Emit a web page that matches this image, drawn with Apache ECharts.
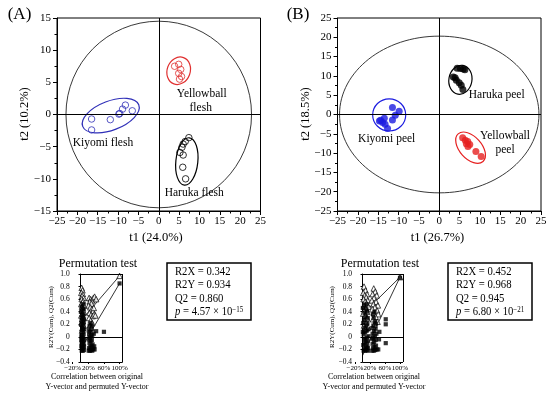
<!DOCTYPE html>
<html><head><meta charset="utf-8">
<script src="https://cdn.jsdelivr.net/npm/echarts@6/dist/echarts.min.js"></script>
<style>html,body{margin:0;padding:0;background:#fff}#c{width:550px;height:396px}</style>
</head><body><div id="c"></div>
<script>
const FONT = '"Liberation Serif","Times New Roman",serif';

// ---------- Panel A (flesh) score points [t1, t2] ----------
const fleshKiyomi = [[-16.5,-0.7],[-16.5,-2.4],[-11.9,-0.8],[-9.8,0.06],[-9.6,0.16],[-8.9,0.84],[-8.2,1.46],[-6.5,0.58]];
const fleshYellowball = [[3.9,7.5],[4.9,7.8],[5.4,7.0],[4.9,6.4],[5.6,5.9],[5.1,5.5]];
const fleshHaruka = [[7.4,-3.6],[6.5,-4.2],[6.0,-4.6],[5.7,-5.1],[5.2,-5.9],[6.0,-6.3],[5.9,-8.2],[6.6,-10.0]];
// ellipses [cx, cy, rx (t1 units), ry (t2 units), angle deg]
const fleshEllipses = [[0,0,22.8,14.5,0],[-11.8,-0.17,7.38,2.26,21],[4.9,6.8,2.83,2.18,-20],[6.9,-7.3,2.7,3.7,-6]];

// ---------- Panel B (peel) score points ----------
const peelKiyomi = [[-11.5,1.8],[-9.85,0.86],[-10.8,-0.2],[-11.5,-1.4],[-13.5,-1.0],[-14.4,-1.5],[-13.9,-2.1],[-13.3,-2.5],[-12.7,-3.6],[-14.7,-1.7]];
const peelHaruka = [[4.4,12.0],[5.2,11.9],[5.9,11.8],[6.3,11.6],[3.45,9.7],[3.9,9.5],[4.2,8.9],[4.9,8.2],[5.4,7.6],[5.8,6.5]];
const peelYellowball = [[5.75,-6.0],[6.4,-6.7],[7.0,-7.0],[6.65,-7.55],[7.5,-7.8],[7.05,-8.3],[9.0,-9.6],[10.3,-10.9]];
const peelEllipses = [[0,0,24.5,20.3,0],[-12.3,-0.1,4.06,4.17,0],[5.2,9.0,2.83,3.78,-10],[7.7,-8.6,4.56,2.86,-48]];

// ---------- Permutation tests [correlation, value] ----------
const permA_R2 = [[0.03,0.78],[0.05,0.74],[0.02,0.70],[0.06,0.68],[0.04,0.65],[0.08,0.62],[0.03,0.60],[0.07,0.57],[0.05,0.55],[0.02,0.52],[0.09,0.50],[0.04,0.48],[0.06,0.45],[0.03,0.42],[0.08,0.40],[0.05,0.37],[0.02,0.34],[0.07,0.31],[0.04,0.28],[0.06,0.25],[0.03,0.22],[0.08,0.18],[0.05,0.14],[0.04,0.10],
  [0.22,0.62],[0.26,0.60],[0.30,0.58],[0.24,0.56],[0.28,0.53],[0.33,0.62],[0.36,0.64],[0.21,0.50],[0.25,0.47],[0.29,0.44],[0.32,0.41],[0.23,0.38],[0.27,0.35],[0.31,0.33],[0.35,0.36],[0.38,0.34],[0.22,0.30],[0.26,0.26],[0.30,0.22],[0.24,0.18],[0.28,0.14],[0.40,0.60],[0.34,0.46],[1.0,0.97]];
const permA_Q2 = [[0.03,-0.22],[0.06,-0.22],[0.09,-0.21],[0.04,-0.19],[0.07,-0.17],[0.02,-0.15],[0.05,-0.13],[0.08,-0.11],[0.03,-0.09],[0.06,-0.07],[0.09,-0.05],[0.04,-0.03],[0.07,-0.01],[0.02,0.01],[0.05,0.03],[0.08,0.05],[0.03,0.08],[0.06,0.11],[0.04,0.14],[0.07,0.17],[0.05,0.21],[0.03,0.25],[0.06,0.30],[0.04,0.35],[0.05,0.42],
  [0.08,0.23],[0.02,0.19],[0.09,0.28],[0.07,0.36],[0.03,0.31],[0.08,0.45],[0.03,0.48],[0.06,0.52],[0.02,0.40],[0.09,0.12],[0.02,-0.05],[0.09,-0.15],
  [0.21,-0.22],[0.24,-0.22],[0.27,-0.21],[0.30,-0.22],[0.33,-0.20],[0.22,-0.18],[0.25,-0.16],[0.28,-0.14],[0.31,-0.12],[0.23,-0.10],[0.26,-0.07],[0.29,-0.05],[0.24,-0.02],[0.27,0.01],[0.22,0.04],[0.25,0.08],[0.28,0.12],[0.23,0.17],[0.26,0.22],[0.35,-0.15],[0.36,-0.20],[0.34,0.05],
  [0.30,0.03],[0.21,0.10],[0.29,0.18],[0.31,-0.18],[0.21,-0.04],
  [0.40,0.09],[0.60,0.08],[1.0,0.85]];
const permA_R2line = [[0,0.25],[1.0,0.97]];
const permA_Q2line = [[0,-0.2],[1.0,0.85]];

const permB_R2 = [[0.04,0.80],[0.08,0.74],[0.02,0.70],[0.12,0.68],[0.06,0.66],[0.10,0.63],[0.03,0.60],[0.14,0.58],[0.07,0.56],[0.11,0.53],[0.04,0.50],[0.16,0.48],[0.09,0.45],[0.05,0.42],[0.13,0.40],[0.02,0.37],[0.08,0.34],[0.12,0.30],[0.06,0.26],[0.10,0.22],[0.04,0.18],[0.15,0.15],[0.08,0.12],
  [0.30,0.77],[0.34,0.72],[0.27,0.68],[0.38,0.66],[0.31,0.62],[0.25,0.58],[0.36,0.56],[0.29,0.52],[0.41,0.50],[0.33,0.47],[0.26,0.44],[0.39,0.42],[0.30,0.38],[0.42,0.36],[0.35,0.32],[0.28,0.28],[0.40,0.24],[0.32,0.20],[1.0,0.95]];
const permB_Q2 = [[0.03,-0.22],[0.07,-0.22],[0.11,-0.21],[0.15,-0.22],[0.05,-0.19],[0.09,-0.17],[0.13,-0.15],[0.02,-0.13],[0.06,-0.11],[0.10,-0.09],[0.14,-0.07],[0.04,-0.05],[0.08,-0.03],[0.12,-0.01],[0.16,0.01],[0.03,0.04],[0.07,0.07],[0.11,0.10],[0.05,0.14],[0.09,0.18],[0.13,0.22],[0.04,0.27],[0.08,0.32],[0.06,0.38],[0.10,0.44],[0.05,0.50],
  [0.14,0.30],[0.02,0.22],[0.12,0.40],[0.15,0.12],[0.01,0.46],[0.11,0.52],[0.14,-0.18],[0.01,0.08],
  [0.26,-0.22],[0.30,-0.22],[0.34,-0.21],[0.38,-0.20],[0.28,-0.18],[0.32,-0.16],[0.36,-0.14],[0.27,-0.11],[0.31,-0.08],[0.35,-0.05],[0.29,-0.02],[0.33,0.01],[0.27,0.05],[0.31,0.09],[0.35,0.13],[0.29,0.18],[0.33,0.24],[0.30,0.30],[0.28,0.36],
  [0.37,0.05],[0.26,0.14],[0.36,0.21],[0.32,0.40],[0.26,-0.03],
  [0.45,0.08],[0.44,-0.04],[0.42,-0.20],[0.62,0.28],[0.62,0.20],[0.62,-0.10],[1.0,0.94]];
const permB_R2line = [[0,0.36],[1.0,0.95]];
const permB_Q2line = [[0,-0.3],[1.0,0.95]];

const permXTicks = [-0.2, 0.2, 0.6, 1.0];
const PX_MAX = 1.08;

const fmtMinus = v => String(v).replace('-', '\u2212');
const fmtPerm = v => (v === 0 ? '0' : v.toFixed(1)).replace('-', '\u2212');
const fmtPct = v => (Math.round(v * 100) + '%').replace('-', '\u2212');

const BLUE_A = '#3030b8', RED_A = '#e03030';
const BLUE_B = '#1c1ce0', RED_B = '#e62020';

function mainX(gi) {
  return {type:'value', gridIndex:gi, min:-25, max:25, interval:5,
    axisLine:{onZero:false, lineStyle:{color:'#000', width:1}},
    axisTick:{length:4, lineStyle:{color:'#000'}},
    minorTick:{show:true, splitNumber:2, length:2.5, lineStyle:{color:'#000'}},
    splitLine:{show:false},
    axisLabel:{color:'#000', fontFamily:FONT, fontSize:11, margin:5, formatter:fmtMinus}};
}
function mainY(gi, lim) {
  return {type:'value', gridIndex:gi, min:-lim, max:lim, interval:5,
    axisLine:{onZero:false, lineStyle:{color:'#000', width:1}},
    axisTick:{length:4, lineStyle:{color:'#000'}},
    minorTick:{show:true, splitNumber:2, length:2.5, lineStyle:{color:'#000'}},
    splitLine:{show:false},
    axisLabel:{color:'#000', fontFamily:FONT, fontSize:11, margin:6, formatter:fmtMinus}};
}
function permX(gi) {
  return {type:'value', gridIndex:gi, min:-0.2, max:PX_MAX,
    axisLine:{show:false, onZero:false},
    axisTick:{show:true, customValues:permXTicks, length:2, lineStyle:{color:'#000'}},
    splitLine:{show:false},
    axisLabel:{customValues:permXTicks, color:'#000', fontFamily:FONT, fontSize:7, margin:3, formatter:fmtPct}};
}
function permY(gi) {
  return {type:'value', gridIndex:gi, min:-0.4, max:1.0, interval:0.2,
    axisLine:{onZero:true, lineStyle:{color:'#000', width:1}},
    axisTick:{length:2, lineStyle:{color:'#000'}},
    splitLine:{show:false},
    axisLabel:{color:'#000', fontFamily:FONT, fontSize:7.5, margin:3, formatter:fmtPerm}};
}

function ellipseSeries(list, colors, idx) {
  return {type:'custom', xAxisIndex:idx, yAxisIndex:idx, silent:true, z:1, encode:{x:0, y:1},
    data:list,
    renderItem(params, api) {
      const c = api.coord([api.value(0), api.value(1)]);
      const rx = api.size([api.value(2), 0])[0];
      const ry = api.size([0, api.value(3)])[1];
      return {type:'ellipse', x:c[0], y:c[1], rotation:api.value(4) * Math.PI / 180,
        shape:{cx:0, cy:0, rx:rx, ry:ry},
        style:{fill:'none', stroke:colors[params.dataIndex], lineWidth:params.dataIndex === 0 ? 0.9 : 1.2}};
    }};
}
const crossLines = {silent:true, symbol:['none','none'], label:{show:false},
  lineStyle:{color:'#000', type:'solid', width:1}, data:[{xAxis:0},{yAxis:0}]};

function openScatter(data, color, idx, extra) {
  return Object.assign({type:'scatter', xAxisIndex:idx, yAxisIndex:idx, data, symbol:'circle', symbolSize:6.5, z:3,
    itemStyle:{color:'rgba(255,255,255,0)', borderColor:color, borderWidth:1}}, extra || {});
}
function filledScatter(data, color, idx, extra) {
  return Object.assign({type:'scatter', xAxisIndex:idx, yAxisIndex:idx, data, symbol:'circle', symbolSize:7, z:3,
    itemStyle:{color:color}}, extra || {});
}
function permSeries(idx, r2, q2, r2line, q2line) {
  const frame = {silent:true, symbol:['none','none'], label:{show:false},
    lineStyle:{color:'#000', type:'solid', width:1},
    data:[
      [{coord:[0,0]},{coord:[PX_MAX,0]}],
      [{coord:[0,1.0]},{coord:[PX_MAX,1.0]}],
      [{coord:[0,-0.4]},{coord:[PX_MAX,-0.4]}],
      [{coord:[PX_MAX,-0.4]},{coord:[PX_MAX,1.0]}]
    ]};
  return [
    {type:'line', xAxisIndex:idx, yAxisIndex:idx, data:r2line, symbol:'none', z:2, lineStyle:{color:'#000', width:0.8}, markLine:frame},
    {type:'line', xAxisIndex:idx, yAxisIndex:idx, data:q2line, symbol:'none', z:2, lineStyle:{color:'#000', width:0.8}},
    {type:'scatter', xAxisIndex:idx, yAxisIndex:idx, data:r2, symbol:'triangle', symbolSize:5.5, z:3,
      itemStyle:{color:'#fff', borderColor:'#000', borderWidth:0.9}},
    {type:'scatter', xAxisIndex:idx, yAxisIndex:idx, data:q2, symbol:'rect', symbolSize:4.2, z:4,
      itemStyle:{color:'#000'}}
  ];
}

function txt(text, x, y, size, extra) {
  return Object.assign({type:'text', x:x, y:y, silent:true, z:100,
    style:Object.assign({text:text, fontFamily:FONT, fontSize:size, fill:'#000',
      align:'center', verticalAlign:'middle', textAlign:'center', textVerticalAlign:'middle'}, (extra && extra.style) || {})},
    extra ? {rotation:extra.rotation || 0} : {});
}
function statBox(x, y, lines) {
  const els = [{type:'rect', silent:true, z:100, shape:{x:x, y:y, width:84, height:57},
    style:{fill:'none', stroke:'#000', lineWidth:1.5}}];
  lines.forEach((l, i) => {
    els.push({type:'text', silent:true, z:100, x:x + 8, y:y + 8.5 + i * 13.5, scaleX:0.82,
      style:{text:l, fontFamily:FONT, fontSize:13, fill:'#000', align:'left', verticalAlign:'middle',
        textAlign:'left', textVerticalAlign:'middle', lineHeight:14,
        rich:{i:{fontStyle:'italic', fontFamily:FONT, fontSize:13, lineHeight:14},
              n:{fontFamily:FONT, fontSize:13, lineHeight:14},
              s:{fontFamily:FONT, fontSize:8.5, verticalAlign:'top', lineHeight:13}}}});
  });
  return els;
}

const option = {
  animation:false,
  backgroundColor:'#fff',
  grid:[
    {left:57, top:18, width:203.5, height:193, show:true, borderColor:'#000', borderWidth:1, containLabel:false},
    {left:337.5, top:18, width:203.5, height:193, show:true, borderColor:'#000', borderWidth:1, containLabel:false},
    {left:72.7, top:274, width:50, height:88, containLabel:false},
    {left:355, top:274, width:48, height:88, containLabel:false}
  ],
  xAxis:[mainX(0), mainX(1), permX(2), permX(3)],
  yAxis:[mainY(0, 15), mainY(1, 25), permY(2), permY(3)],
  series:[
    ellipseSeries(fleshEllipses, ['#222', BLUE_A, RED_A, '#000'], 0),
    openScatter(fleshKiyomi, BLUE_A, 0, {markLine:crossLines}),
    openScatter(fleshYellowball, RED_A, 0),
    openScatter(fleshHaruka, '#000', 0),
    ellipseSeries(peelEllipses, ['#222', BLUE_B, '#000', RED_B], 1),
    filledScatter(peelKiyomi, BLUE_B, 1, {markLine:crossLines}),
    filledScatter(peelHaruka, '#000', 1),
    filledScatter(peelYellowball, RED_B, 1),
    ...permSeries(2, permA_R2, permA_Q2, permA_R2line, permA_Q2line),
    ...permSeries(3, permB_R2, permB_Q2, permB_R2line, permB_Q2line)
  ],
  graphic:[
    txt('(A)', 19.5, 15, 17),
    txt('(B)', 298, 15, 17),
    txt('t1 (24.0%)', 156, 238, 12.5),
    txt('t1 (26.7%)', 437.5, 238, 12.5),
    txt('t2 (10.2%)', 25, 114, 12.5, {rotation:Math.PI / 2}),
    txt('t2 (18.5%)', 306, 114, 12.5, {rotation:Math.PI / 2}),
    txt('Yellowball', 201.7, 94.3, 11.5),
    txt('flesh', 200.7, 107.8, 11.5),
    txt('Kiyomi flesh', 103, 142.7, 11.5),
    txt('Haruka flesh', 194.2, 193.3, 11.5),
    txt('Haruka peel', 496.7, 95, 11.5),
    txt('Kiyomi peel', 386.7, 139, 11.5),
    txt('Yellowball', 505, 136, 11.5),
    txt('peel', 505, 149.5, 11.5),
    txt('Permutation test', 98, 264, 12),
    txt('Permutation test', 380, 264, 12),
    txt('R2Y(Cum), Q2(Cum)', 51, 317, 7, {rotation:Math.PI / 2}),
    txt('R2Y(Cum), Q2(Cum)', 332.5, 317, 7, {rotation:Math.PI / 2}),
    txt('Correlation between original', 97, 377, 8),
    txt('Y-vector and permuted Y-vector', 97, 386.5, 8),
    txt('Correlation between original', 374, 377, 8),
    txt('Y-vector and permuted Y-vector', 374, 386.5, 8),
    ...statBox(167, 263, ['R2X = 0.342', 'R2Y = 0.934', 'Q2 = 0.860', '{i|p}{n| = 4.57 \u00d7 10}{s|\u221215}']),
    ...statBox(448, 263, ['R2X = 0.452', 'R2Y = 0.968', 'Q2 = 0.945', '{i|p}{n| = 6.80 \u00d7 10}{s|\u221221}'])
  ]
};
echarts.init(document.getElementById('c'), null, {renderer:'canvas'}).setOption(option);
</script></body></html>
